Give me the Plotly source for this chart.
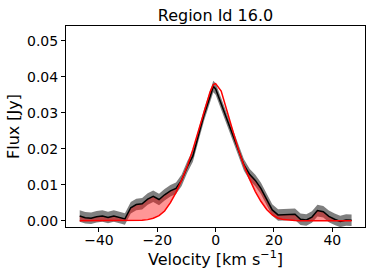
import numpy as np
import plotly.graph_objects as go

velocity = [-46.6, -44.7, -42.7, -40.8, -38.8, -36.9, -34.9, -33.0, -31.1, -29.1,
            -27.2, -25.2, -23.3, -21.4, -19.4, -17.5, -15.5, -13.6, -11.7, -9.7,
            -7.8, -5.8, -3.9, -1.9, -0.8, 0.0, 1.9, 3.9, 5.8, 7.8, 9.7, 11.7, 13.6,
            15.5, 17.5, 19.4, 21.4, 23.3, 25.2, 27.2, 29.1, 31.1, 33.0, 34.9,
            36.9, 38.8, 40.8, 42.7, 44.7, 46.6]

flux = [0.0013, 0.0008, 0.0007, 0.0011, 0.0013, 0.0009, 0.0013, 0.0010, 0.0005, 0.0036,
        0.0045, 0.0047, 0.0060, 0.0068, 0.0059, 0.0072, 0.0083, 0.0090, 0.0112, 0.0150,
        0.0180, 0.0240, 0.0296, 0.0345, 0.0373, 0.0366, 0.0325, 0.0280, 0.0240, 0.0192,
        0.0155, 0.0128, 0.0112, 0.0090, 0.0060, 0.0030, 0.0016, 0.0017, 0.0016, 0.0018,
        0.0004, 0.0002, 0.0010, 0.0028, 0.0025, 0.0012, 0.0004, -0.0002, 0.0002, 0.0001]

model = [0.0, 0.0, 0.0, 0.0, 0.0, 0.0, 0.0, 0.0, 0.0, 0.00002,
         0.00005, 0.0001, 0.0003, 0.0007, 0.0014, 0.0027, 0.0050, 0.0078, 0.0112, 0.0152,
         0.0198, 0.0252, 0.0302, 0.0358, 0.0378, 0.0381, 0.0360, 0.0302, 0.0252, 0.0198,
         0.0153, 0.0114, 0.0081, 0.0054, 0.0031, 0.0016, 0.0007, 0.0003, 0.0001, 0.00005,
         0.00002, 0.0, 0.0, 0.0, 0.0, 0.0, 0.0, 0.0, 0.0, 0.0]

flux_err = 0.0016

v = np.array(velocity)
f = np.array(flux)
m = np.array(model)
upper_fill = np.maximum(f, m)

fig = go.Figure()
# uncertainty band
fig.add_trace(go.Scatter(x=v, y=f - flux_err, mode="lines", line=dict(width=0),
                         hoverinfo="skip", showlegend=False))
fig.add_trace(go.Scatter(x=v, y=f + flux_err, mode="lines", line=dict(width=0),
                         fill="tonexty", fillcolor="rgba(0,0,0,0.5)",
                         hoverinfo="skip", showlegend=False))
# residual fill between model and data
fig.add_trace(go.Scatter(x=v, y=m, mode="lines", line=dict(width=0),
                         hoverinfo="skip", showlegend=False))
fig.add_trace(go.Scatter(x=v, y=upper_fill, mode="lines", line=dict(width=0),
                         fill="tonexty", fillcolor="rgba(255,0,0,0.41)",
                         hoverinfo="skip", showlegend=False))
# data line
fig.add_trace(go.Scatter(x=v, y=f, mode="lines", line=dict(color="black", width=1.5),
                         showlegend=False))
# model line
fig.add_trace(go.Scatter(x=v, y=m, mode="lines", line=dict(color="red", width=1.5),
                         showlegend=False))

font_family = "DejaVu Sans"
fig.update_layout(
    width=374, height=280,
    margin=dict(l=66, r=9, t=26, b=53),
    paper_bgcolor="white", plot_bgcolor="white",
    font=dict(family=font_family, size=14, color="black"),
    title=dict(text="Region Id 16.0", x=(66 + 365) / 2 / 374, xanchor="center",
               yref="container", y=1 - 15.5 / 280, yanchor="middle",
               font=dict(size=16, family=font_family, color="black")),
)
fig.update_xaxes(
    range=[-51.3, 51.2], tickvals=[-40, -20, 0, 20, 40],
    showgrid=False, zeroline=False,
    showline=True, linecolor="black", linewidth=1, mirror=True,
    ticks="outside", ticklen=4, tickcolor="black", tickwidth=1,
    tickfont=dict(size=14), ticklabelstandoff=-4,
    title=dict(text="Velocity [km s<sup>−1</sup>]", font=dict(size=16), standoff=5),
)
fig.update_yaxes(
    range=[-0.00175, 0.0541], tickvals=[0, 0.01, 0.02, 0.03, 0.04, 0.05],
    tickformat=".2f",
    showgrid=False, zeroline=False,
    showline=True, linecolor="black", linewidth=1, mirror=True,
    ticks="outside", ticklen=4, tickcolor="black", tickwidth=1,
    tickfont=dict(size=14),
    title=dict(text="Flux [Jy]", font=dict(size=16), standoff=3),
)

fig.write_html("out.html", config={"displayModeBar": False},
               post_script="document.body.style.margin='0px';")
